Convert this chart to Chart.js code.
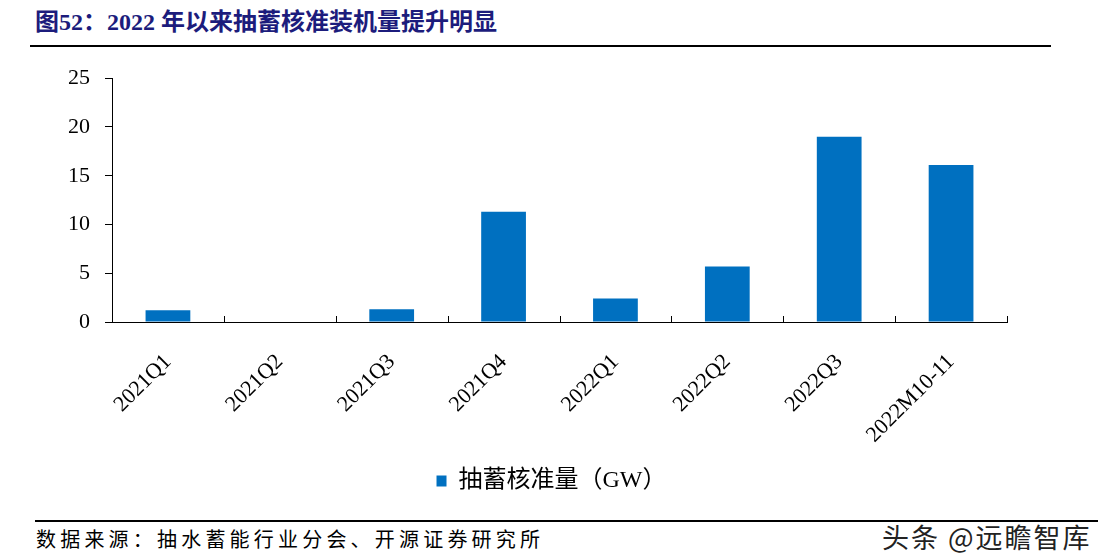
<!DOCTYPE html>
<html>
<head>
<meta charset="utf-8">
<script src="https://cdn.jsdelivr.net/npm/chart.js@4"></script>
<style>
  html, body { margin: 0; padding: 0; background: #fff; }
  body { width: 1098px; height: 560px; position: relative; overflow: hidden; }
  .title {
    position: absolute; left: 35px; top: 2px;
    font: bold 24px "Liberation Serif", "Noto Sans CJK SC", serif;
    color: #1c1c7c; white-space: nowrap;
  }
  .rule { position: absolute; background: #000; }
  .source {
    position: absolute; left: 36px; top: 524px;
    font: 20px "Liberation Serif", "Noto Sans CJK SC", serif;
    letter-spacing: 4.2px; color: #000; white-space: nowrap;
  }
  .mark {
    position: absolute; left: 882px; top: 517px;
    font: 27px "Noto Sans CJK SC", sans-serif; color: #222; white-space: nowrap;
    letter-spacing: 2px;
    text-shadow: 1px 1px 0 #fff, -1px -1px 0 #fff, 1px -1px 0 #fff, -1px 1px 0 #fff;
  }
  #wrap { position: absolute; left: 0; top: 50px; width: 1098px; height: 460px; }
  #wrap canvas { display: block; }
</style>
</head>
<body>
<div class="title">图52：2022 年以来抽蓄核准装机量提升明显</div>
<div class="rule" style="left:30px;top:45px;width:1021px;height:2px;"></div>
<div id="wrap"><canvas id="chart" width="1098" height="460"></canvas></div>
<div class="rule" style="left:35px;top:520px;width:1063px;height:2px;"></div>
<div class="source">数据来源：抽水蓄能行业分会、开源证券研究所</div>
<div class="mark">头条 @远瞻智库</div>

<script>
// data
var categories = ['2021Q1', '2021Q2', '2021Q3', '2021Q4', '2022Q1', '2022Q2', '2022Q3', '2022M10-11'];
var approved = [1.2, 0, 1.3, 11.3, 2.4, 5.7, 19.0, 16.1];
var seriesName = '抽蓄核准量（GW）';
var yTicks = [0, 5, 10, 15, 20, 25];

var serif = '"Liberation Serif", "Noto Sans CJK SC", serif';

// small upward tick marks between categories, like the original
var innerTicks = {
    id: 'innerTicks',
    afterLayout: function(chart) {
        // legend in the original is centred on the page, not on the plot
        if (chart.legend) {
            chart.legend.left += 28;
            chart.legend.right += 28;
        }
    },
    afterDraw: function(chart) {
        var x = chart.scales.x;
        var ctx = chart.ctx;
        var y0 = chart.chartArea.bottom;
        ctx.save();
        ctx.strokeStyle = '#000';
        ctx.lineWidth = 1;
        ctx.beginPath();
        for (var i = 0; i <= categories.length; i++) {
            var px = Math.round(x.getPixelForValue(i - 0.5)) + 0.5;
            ctx.moveTo(px, y0);
            ctx.lineTo(px, y0 - 6);
        }
        ctx.stroke();
        ctx.restore();
    }
};

var ctx = document.getElementById('chart').getContext('2d');
new Chart(ctx, {
    type: 'bar',
    data: {
        labels: categories,
        datasets: [{
            label: seriesName,
            data: approved,
            backgroundColor: '#0070C0',
            borderWidth: 0,
            barPercentage: 0.4,
            categoryPercentage: 1
        }]
    },
    options: {
        responsive: false,
        animation: false,
        layout: { padding: { left: 40, right: 91, top: 7, bottom: 7 } },
        plugins: {
            legend: {
                position: 'bottom',
                labels: {
                    boxWidth: 10,
                    boxHeight: 11,
                    padding: 10,
                    color: '#000',
                    font: { family: serif, size: 24 }
                }
            },
            tooltip: { enabled: false }
        },
        scales: {
            x: {
                grid: { display: true, drawOnChartArea: false, drawTicks: false },
                border: { color: '#000', width: 1 },
                ticks: {
                    autoSkip: false,
                    maxRotation: 45,
                    minRotation: 45,
                    padding: 27,
                    color: '#000',
                    font: { family: serif, size: 22 }
                },
                afterFit: function(scale) { scale.height = 137; }
            },
            y: {
                min: 0,
                max: 25,
                afterBuildTicks: function(scale) {
                    scale.ticks = yTicks.map(function(v) { return { value: v }; });
                },
                grid: { display: true, drawOnChartArea: false, drawTicks: true, tickLength: 7, color: '#000' },
                border: { color: '#000', width: 1 },
                ticks: {
                    padding: 15,
                    color: '#000',
                    font: { family: serif, size: 22 }
                },
                afterFit: function(scale) { scale.width = 72; }
            }
        }
    },
    plugins: [innerTicks]
});
</script>
</body>
</html>
